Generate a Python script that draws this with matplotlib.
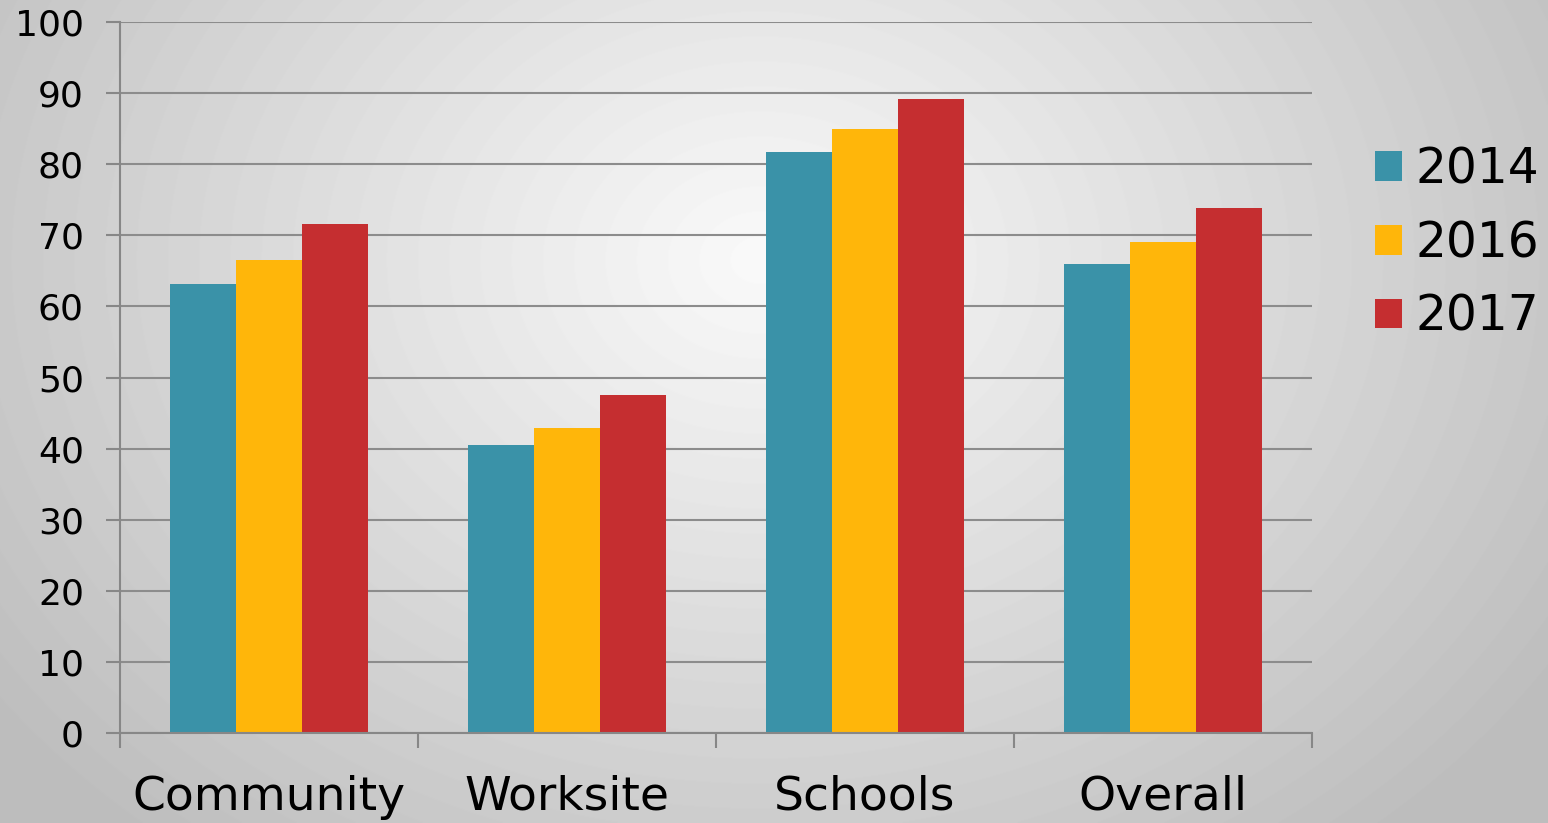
import numpy as np
import matplotlib.pyplot as plt
import matplotlib as mpl

mpl.rcParams['font.family'] = ['DejaVu Sans']

categories = ['Community', 'Worksite', 'Schools', 'Overall']
years = ['2014', '2016', '2017']
v2014 = [63.2, 40.5, 81.7, 65.9]
v2016 = [66.5, 42.9, 84.9, 69.0]
v2017 = [71.6, 47.6, 89.1, 73.8]
colors = ['#3a92a8', '#ffb60a', '#c52e30']

fig = plt.figure(figsize=(15.48, 8.23), dpi=100)

# radial gradient background
bg = fig.add_axes([0, 0, 1, 1])
yy, xx = np.mgrid[0:823, 0:1548]
r = np.sqrt(((xx - 760) / 1000.0) ** 2 + ((yy - 260) / 800.0) ** 2)
shade = np.clip(0.98 - 0.25 * r, 0.74, 0.98)
bg.imshow(shade, cmap='gray', vmin=0, vmax=1, aspect='auto', extent=[0, 1, 0, 1])
bg.axis('off')

ax = fig.add_axes([120 / 1548, 90 / 823, 1192 / 1548, 711 / 823])
ax.patch.set_alpha(0)

x = np.arange(len(categories))
w = 0.222
for i, (vals, lab) in enumerate(zip([v2014, v2016, v2017], years)):
    ax.bar(x + (i - 1) * w, vals, w, color=colors[i], label=lab, zorder=3)

ax.set_xlim(-0.5, 3.5)
ax.set_ylim(0, 100)
ax.set_yticks(np.arange(0, 101, 10))
ax.set_xticks(x)
ax.set_xticklabels(categories, fontsize=34)
ax.set_xticks(np.arange(-0.5, 3.6, 1), minor=True)
ax.tick_params(axis='x', which='major', length=0, pad=30)
ax.tick_params(axis='x', which='minor', length=11, width=1.5, color='#878787', direction='out')
ax.tick_params(axis='y', labelsize=26, length=10, width=1.5, color='#878787', pad=16)
ax.grid(axis='y', color='#8c8c8c', linewidth=1.5, zorder=0)
for s in ['top', 'right']:
    ax.spines[s].set_visible(False)
for s in ['left', 'bottom']:
    ax.spines[s].set_color('#878787')
    ax.spines[s].set_linewidth(1.5)
ax.spines['bottom'].set_zorder(4)

fig.legend(loc='center left', bbox_to_anchor=(1375 / 1548, 1 - 243 / 823), frameon=False,
           fontsize=35, handlelength=0.56, handleheight=0.56, handletextpad=0.27,
           labelspacing=0.53, borderaxespad=0, borderpad=0)

plt.savefig('out.png', dpi=100)
